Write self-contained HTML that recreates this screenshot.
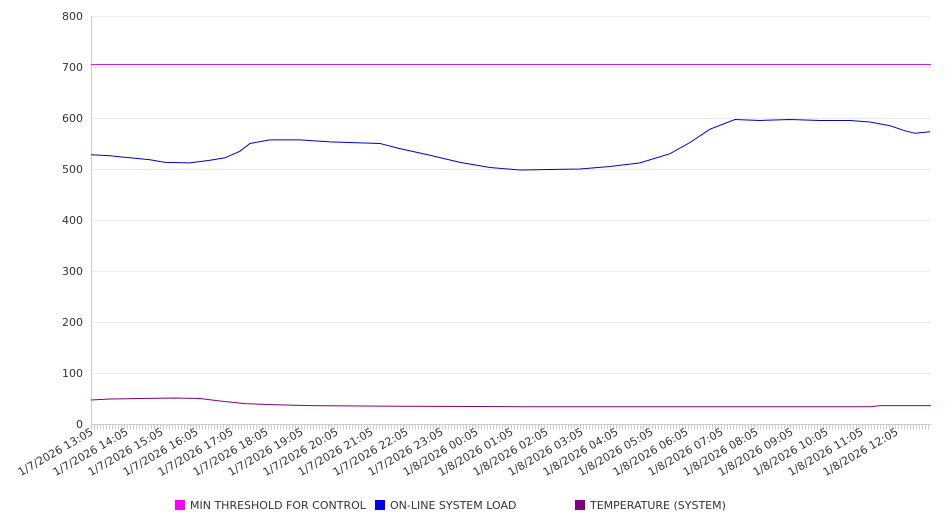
<!DOCTYPE html>
<html><head><style>body{margin:0;background:#fff}svg{display:block;font-family:"DejaVu Sans","Liberation Sans",sans-serif}</style></head><body>
<svg width="946" height="526" viewBox="0 0 946 526">
<g stroke="#ebebeb" stroke-width="1">
<line x1="91" x2="931" y1="16.5" y2="16.5"/><line x1="91" x2="931" y1="67.5" y2="67.5"/><line x1="91" x2="931" y1="118.5" y2="118.5"/><line x1="91" x2="931" y1="169.5" y2="169.5"/><line x1="91" x2="931" y1="220.5" y2="220.5"/><line x1="91" x2="931" y1="271.5" y2="271.5"/><line x1="91" x2="931" y1="322.5" y2="322.5"/><line x1="91" x2="931" y1="373.5" y2="373.5"/>
</g>
<line x1="91.5" x2="91.5" y1="16" y2="424" stroke="#ccc"/>
<line x1="91" x2="931" y1="424.5" y2="424.5" stroke="#ccc"/>
<line x1="91" x2="931" y1="427" y2="427" stroke="#ccc" stroke-width="5" stroke-dasharray="1 2"/>
<g font-size="11" fill="#333" text-anchor="end">
<text x="83" y="20">800</text><text x="83" y="71">700</text><text x="83" y="122">600</text><text x="83" y="173">500</text><text x="83" y="224">400</text><text x="83" y="275">300</text><text x="83" y="326">200</text><text x="83" y="377">100</text><text x="83" y="428">0</text>
</g>
<g font-size="11" fill="#333" text-anchor="end">
<text transform="translate(94,434) rotate(-30)">1/7/2026 13:05</text>
<text transform="translate(129,434) rotate(-30)">1/7/2026 14:05</text>
<text transform="translate(164,434) rotate(-30)">1/7/2026 15:05</text>
<text transform="translate(199,434) rotate(-30)">1/7/2026 16:05</text>
<text transform="translate(234,434) rotate(-30)">1/7/2026 17:05</text>
<text transform="translate(269,434) rotate(-30)">1/7/2026 18:05</text>
<text transform="translate(304,434) rotate(-30)">1/7/2026 19:05</text>
<text transform="translate(339,434) rotate(-30)">1/7/2026 20:05</text>
<text transform="translate(374,434) rotate(-30)">1/7/2026 21:05</text>
<text transform="translate(409,434) rotate(-30)">1/7/2026 22:05</text>
<text transform="translate(444,434) rotate(-30)">1/7/2026 23:05</text>
<text transform="translate(479,434) rotate(-30)">1/8/2026 00:05</text>
<text transform="translate(514,434) rotate(-30)">1/8/2026 01:05</text>
<text transform="translate(549,434) rotate(-30)">1/8/2026 02:05</text>
<text transform="translate(584,434) rotate(-30)">1/8/2026 03:05</text>
<text transform="translate(619,434) rotate(-30)">1/8/2026 04:05</text>
<text transform="translate(654,434) rotate(-30)">1/8/2026 05:05</text>
<text transform="translate(689,434) rotate(-30)">1/8/2026 06:05</text>
<text transform="translate(724,434) rotate(-30)">1/8/2026 07:05</text>
<text transform="translate(759,434) rotate(-30)">1/8/2026 08:05</text>
<text transform="translate(794,434) rotate(-30)">1/8/2026 09:05</text>
<text transform="translate(829,434) rotate(-30)">1/8/2026 10:05</text>
<text transform="translate(864,434) rotate(-30)">1/8/2026 11:05</text>
<text transform="translate(899,434) rotate(-30)">1/8/2026 12:05</text>
</g>
<line x1="91" x2="931" y1="64.5" y2="64.5" stroke="#d020d0" stroke-width="1"/>
<polyline fill="none" stroke="#0000cc" stroke-width="1" points="91,154.7 110,155.7 130,157.8 150,159.8 165,162.4 190,162.9 210,160.3 225,157.8 240,151.2 250,143.5 270,139.9 300,139.9 330,141.9 380,143.5 400,148.6 430,155.2 460,162.4 490,167.5 520,170 550,169.5 580,169 610,166.5 640,162.9 670,153.7 690,142.5 710,129.2 735,119.5 760,120.5 790,119.5 820,120.5 850,120.5 870,122 890,125.7 905,130.8 915,133.3 930,131.8"/>
<polyline fill="none" stroke="#800080" stroke-width="1" points="91,400 110,399 140,398.5 175,398 200,398.5 220,401 245,403.6 270,404.6 310,405.6 400,406.2 520,406.7 870,406.7 880,405.6 931,405.6"/>
<g font-size="11" fill="#333">
<rect x="175" y="500" width="10" height="10" fill="#ff00ff"/><text x="190" y="509">MIN THRESHOLD FOR CONTROL</text>
<rect x="375" y="500" width="10" height="10" fill="#0000ff"/><text x="390" y="509">ON-LINE SYSTEM LOAD</text>
<rect x="575" y="500" width="10" height="10" fill="#800080"/><text x="590" y="509">TEMPERATURE (SYSTEM)</text>
</g>
</svg>
</body></html>
